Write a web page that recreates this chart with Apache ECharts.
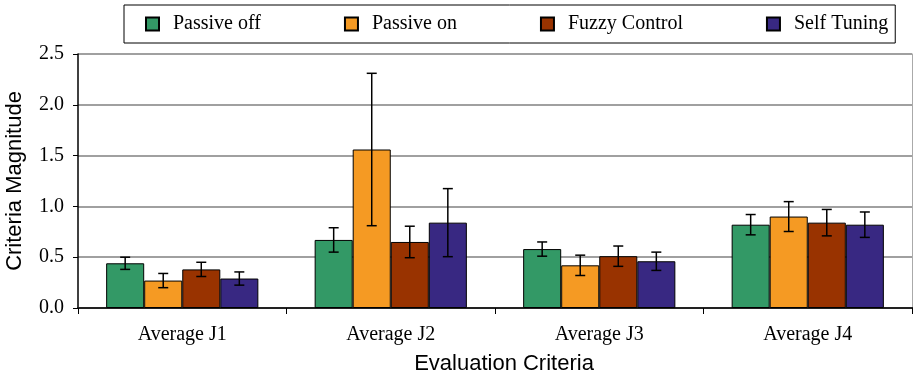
<!DOCTYPE html>
<html>
<head>
<meta charset="utf-8">
<script src="https://cdn.jsdelivr.net/npm/echarts@6/dist/echarts.min.js"></script>
<style>html,body{margin:0;padding:0;background:#fff;}#c{width:913px;height:377px;}</style>
</head>
<body>
<div id="c"></div>
<script>
const categories = ['Average J1', 'Average J2', 'Average J3', 'Average J4'];
const seriesNames = ['Passive off', 'Passive on', 'Fuzzy Control', 'Self Tuning'];
const passiveOff = [0.44, 0.67, 0.58, 0.82];
const passiveOn = [0.27, 1.56, 0.42, 0.90];
const fuzzyControl = [0.38, 0.65, 0.51, 0.84];
const selfTuning = [0.29, 0.84, 0.46, 0.82];
const passiveOffErr = [0.06, 0.12, 0.07, 0.10];
const passiveOnErr = [0.07, 0.75, 0.10, 0.147];
const fuzzyControlErr = [0.07, 0.155, 0.10, 0.13];
const selfTuningErr = [0.065, 0.335, 0.09, 0.125];
const yTicks = [0, 0.5, 1.0, 1.5, 2.0, 2.5];

const values = [passiveOff, passiveOn, fuzzyControl, selfTuning];
const errors = [passiveOffErr, passiveOnErr, fuzzyControlErr, selfTuningErr];
const colors = ['#339966', '#f59a23', '#993300', '#382882'];
const catGap = 0.27;
const nSeries = values.length;

const chart = echarts.init(document.getElementById('c'), null, {renderer: 'canvas'});

const barSeries = values.map((v, i) => ({
  name: seriesNames[i],
  type: 'bar',
  data: v,
  barGap: '0%',
  barCategoryGap: (catGap * 100) + '%',
  itemStyle: {color: colors[i], borderColor: '#000', borderWidth: 1},
  emphasis: {disabled: true},
  z: 2
}));

const errSeries = values.map((v, i) => ({
  type: 'custom',
  name: 'err' + i,
  data: v.map((m, k) => [k, m - errors[i][k], m + errors[i][k]]),
  z: 5,
  silent: true,
  renderItem: function (params, api) {
    const k = api.value(0);
    const lo = api.coord([k, api.value(1)]);
    const hi = api.coord([k, api.value(2)]);
    const band = api.size([1, 0])[0];
    const barW = band * (1 - catGap) / nSeries;
    const x = lo[0] - band * (1 - catGap) / 2 + (i + 0.5) * barW;
    const cap = 5;
    const st = {stroke: '#000', lineWidth: 1.5};
    return {
      type: 'group',
      children: [
        {type: 'line', shape: {x1: x, y1: lo[1], x2: x, y2: hi[1]}, style: st},
        {type: 'line', shape: {x1: x - cap, y1: lo[1], x2: x + cap, y2: lo[1]}, style: st},
        {type: 'line', shape: {x1: x - cap, y1: hi[1], x2: x + cap, y2: hi[1]}, style: st}
      ]
    };
  }
}));

const option = {
  animation: false,
  backgroundColor: '#fff',
  legend: {
    data: seriesNames,
    left: 124,
    top: 5,
    padding: [9, 7, 9, 21],
    borderColor: '#000',
    borderWidth: 1,
    itemWidth: 13,
    itemHeight: 13,
    itemGap: 83,
    icon: 'rect',
    textStyle: {fontFamily: 'Liberation Serif', fontSize: 20, color: '#000', padding: [0, 0, 0, 9]},
    selectedMode: false
  },
  grid: {left: 78, right: 1, top: 54, bottom: 69, containLabel: false, outerBoundsMode: 'none'},
  xAxis: [{
    type: 'category',
    data: categories,
    name: 'Evaluation Criteria',
    nameLocation: 'middle',
    nameGap: 45,
    nameTextStyle: {fontFamily: 'Liberation Sans', fontSize: 22, color: '#000', padding: [0, 0, 0, 18]},
    axisLine: {lineStyle: {color: '#000', width: 2}},
    axisTick: {show: true, length: 6, lineStyle: {color: '#000', width: 1}},
    axisLabel: {fontFamily: 'Liberation Serif', fontSize: 20, color: '#000', margin: 17},
    splitLine: {show: false}
  }, {
    type: 'category',
    data: categories,
    position: 'top',
    axisLine: {lineStyle: {color: '#222', width: 2}},
    axisTick: {show: false},
    axisLabel: {show: false}
  }],
  yAxis: [{
    type: 'value',
    min: 0,
    max: 2.5,
    interval: 0.5,
    name: 'Criteria Magnitude',
    nameLocation: 'middle',
    nameGap: 52,
    nameTextStyle: {fontFamily: 'Liberation Sans', fontSize: 22, color: '#000'},
    axisLine: {show: true, lineStyle: {color: '#000', width: 1.5}},
    axisTick: {show: true, length: 5, lineStyle: {color: '#000', width: 1}},
    axisLabel: {
      fontFamily: 'Liberation Serif', fontSize: 20, color: '#000', margin: 14,
      formatter: v => yTicks.indexOf(v) >= 0 ? v.toFixed(1) : ''
    },
    splitLine: {show: true, lineStyle: {color: '#808080', width: 1.5}}
  }, {
    type: 'value',
    min: 0,
    max: 2.5,
    interval: 0.5,
    position: 'right',
    axisLine: {show: true, lineStyle: {color: '#aaa', width: 1}},
    axisTick: {show: false},
    axisLabel: {show: false},
    splitLine: {show: false}
  }],
  series: barSeries.concat(errSeries)
};
chart.setOption(option);
</script>
</body>
</html>
